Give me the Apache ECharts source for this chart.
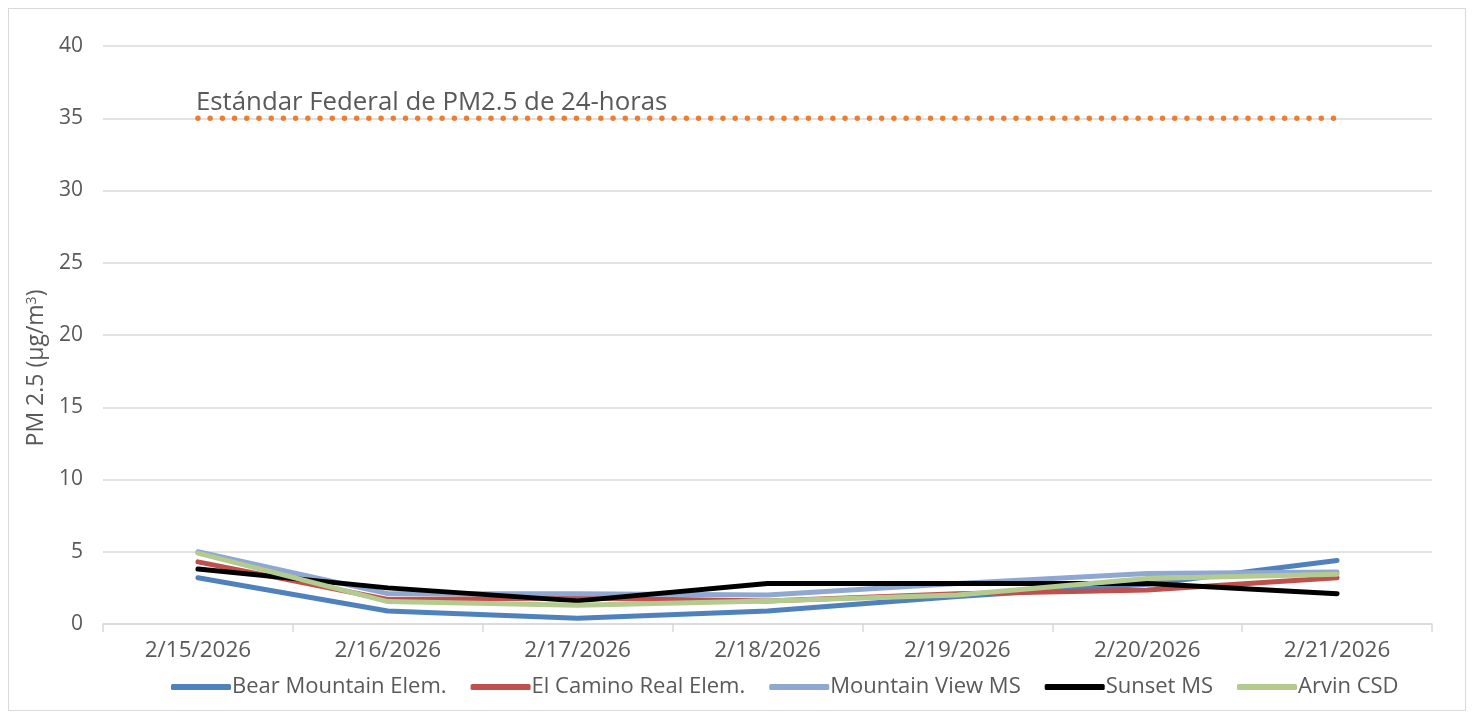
<!DOCTYPE html>
<html><head><meta charset="utf-8">
<script src="https://cdn.jsdelivr.net/npm/echarts@6/dist/echarts.min.js"></script>
<style>
html,body{margin:0;padding:0;background:#fff;}
#frame{position:absolute;left:8px;top:8px;width:1458px;height:703px;border:1px solid #d9d9d9;box-sizing:border-box;}
#chart{position:absolute;left:0;top:0;width:1476px;height:719px;}
</style></head>
<body>
<div id="frame"></div>
<div id="chart"></div>
<script>
const categories = ['2/15/2026','2/16/2026','2/17/2026','2/18/2026','2/19/2026','2/20/2026','2/21/2026'];
const bearMountain = [3.2, 0.9, 0.4, 0.9, 1.9, 2.75, 4.4];
const elCamino = [4.3, 1.7, 1.8, 1.6, 2.1, 2.35, 3.2];
const mountainView = [5.0, 2.1, 2.1, 2.0, 2.8, 3.5, 3.6];
const sunset = [3.8, 2.5, 1.6, 2.8, 2.8, 2.8, 2.1];
const arvin = [4.9, 1.55, 1.3, 1.6, 2.0, 3.15, 3.45];
const federalStandard = [35, 35, 35, 35, 35, 35, 35];
const federalLabel = 'Estándar Federal de PM2.5 de 24-horas';
const seriesNames = ['Bear Mountain Elem.','El Camino Real Elem.','Mountain View MS','Sunset MS','Arvin CSD'];
const seriesColors = ['#4F81BD','#C0504D','#8EA8D2','#000000','#B3CB8E'];
const seriesData = [bearMountain, elCamino, mountainView, sunset, arvin];

const font = '"Open Sans", "Noto Sans", sans-serif';
const chart = echarts.init(document.getElementById('chart'));

const series = seriesData.map((d, i) => ({
  name: seriesNames[i], type: 'line', data: d, symbol: 'none',
  lineStyle: {color: seriesColors[i], width: 5, cap: 'round', join: 'round'},
  itemStyle: {color: seriesColors[i]}, z: 3 + i
}));
series.unshift({
  name: 'standard', type: 'line', symbol: 'circle', symbolSize: 0.1, showSymbol: true, silent: true,
  data: federalStandard.map((v, i) => i === 0 ? {
    value: v,
    label: {show: true, position: 'top', align: 'left', distance: 3, formatter: federalLabel,
      color: '#595959', fontSize: 25.8, fontFamily: font, offset: [-2, 0]}
  } : v),
  lineStyle: {color: '#ED7D31', width: 5.5, type: [0.01, 12.2], cap: 'round'},
  itemStyle: {color: '#ED7D31'}, z: 2
});

chart.setOption({
  animation: false,
  grid: {left: 103, right: 44, top: 46, bottom: 95, containLabel: false},
  legend: {
    data: seriesNames.map(n => ({name: n})),
    bottom: 16, left: 166, itemWidth: 60, itemHeight: 6, itemGap: 24,
    icon: 'roundRect',
    textStyle: {color: '#595959', fontSize: 22, fontFamily: font, padding: [0,0,0,-4]}
  },
  xAxis: {
    type: 'category', data: categories, boundaryGap: true,
    axisLine: {lineStyle: {color: '#d9d9d9', width: 1.5}},
    axisTick: {show: true, length: 8, lineStyle: {color: '#d9d9d9', width: 1.5}},
    axisLabel: {color: '#595959', fontSize: 22.5, fontFamily: font, margin: 15}
  },
  yAxis: {
    type: 'value', min: 0, max: 40, interval: 5,
    name: 'PM 2.5 (µg/m{sup|3})', nameLocation: 'middle', nameGap: 50, nameRotate: 90,
    nameTextStyle: {color: '#595959', fontSize: 23, fontFamily: font, padding: [0, 0, 0, -66],
      rich: {sup: {fontSize: 14, verticalAlign: 'top', color: '#595959', fontFamily: font, padding: [0,0,10,0]}}},
    axisLine: {show: false}, axisTick: {show: false},
    axisLabel: {color: '#595959', fontSize: 21, fontFamily: font, margin: 20},
    splitLine: {lineStyle: {color: '#d9d9d9', width: 1.5}}
  },
  series: series
});
</script>
</body></html>
